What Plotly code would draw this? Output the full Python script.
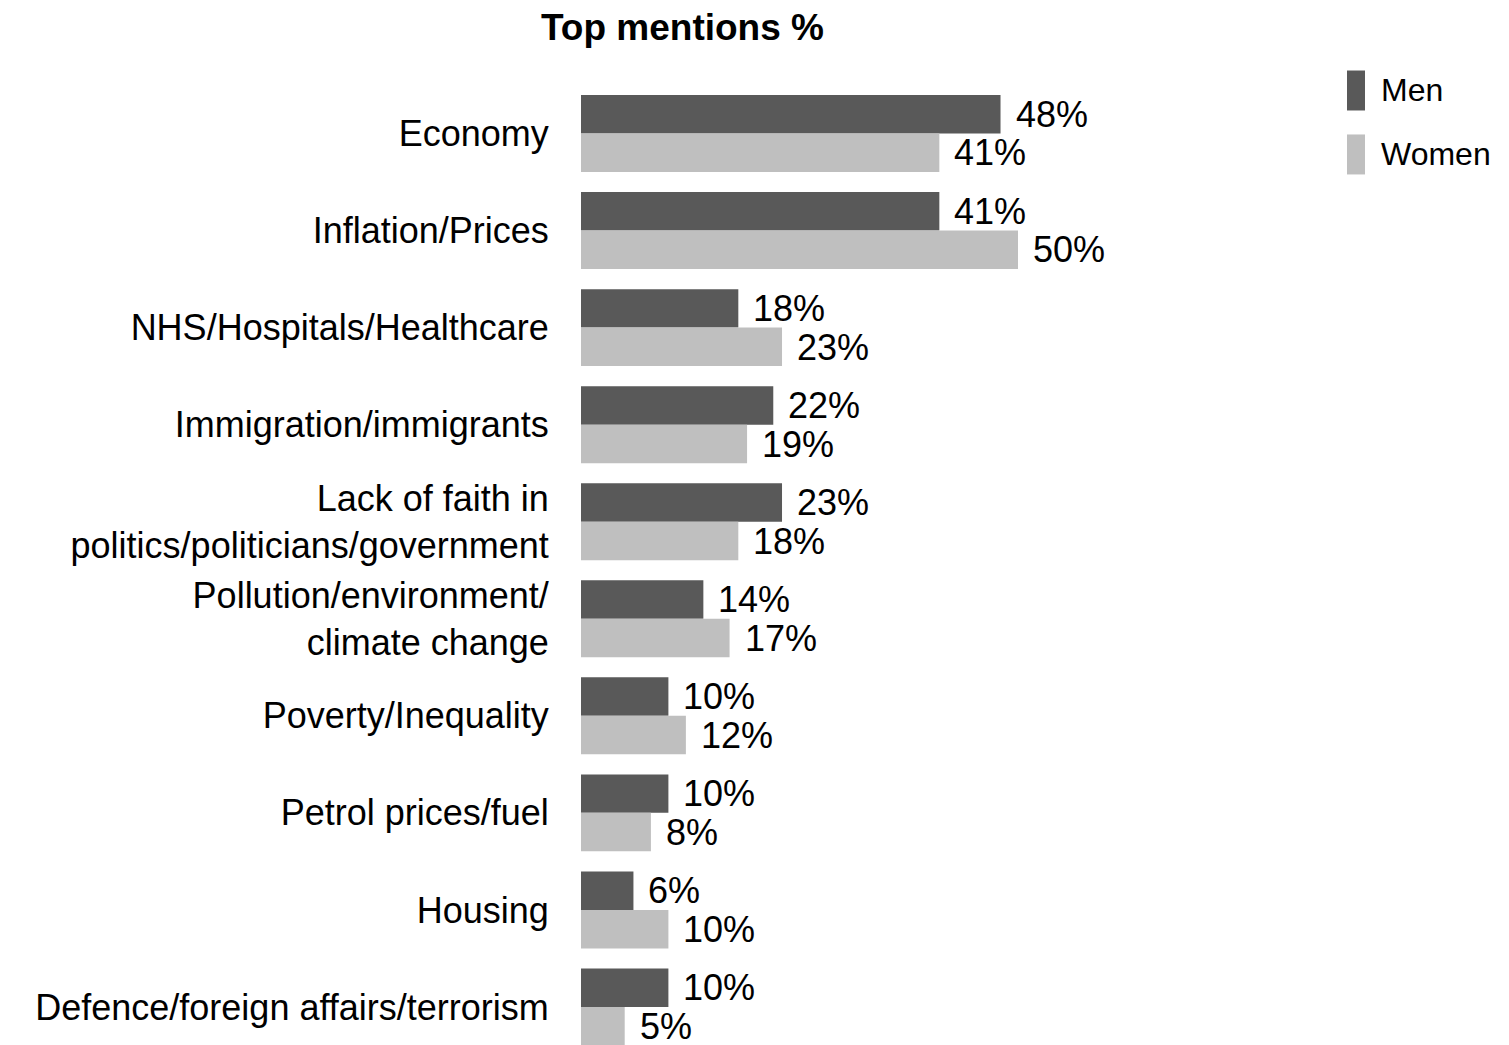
import plotly.graph_objects as go

categories = [
    "Economy",
    "Inflation/Prices",
    "NHS/Hospitals/Healthcare",
    "Immigration/immigrants",
    "Lack of faith in<br>politics/politicians/government",
    "Pollution/environment/<br>climate change",
    "Poverty/Inequality",
    "Petrol prices/fuel",
    "Housing",
    "Defence/foreign affairs/terrorism",
]
men = [48, 41, 18, 22, 23, 14, 10, 10, 6, 10]
women = [41, 50, 23, 19, 18, 17, 12, 8, 10, 5]
series_names = ["Men", "Women"]
colors = ["#595959", "#BFBFBF"]

OFF = 8  # page body margin
W, H = 1509 - OFF, 1045 - OFF
L, T, R, B = 581 - OFF, 84.5 - OFF, 0, 0
plot_w = W - L - R
plot_h = H - T - B
px_per_pct = 8.74
pitch = 97.1

FONT = "Arial, Liberation Sans, sans-serif"

fig = go.Figure()
for name, vals, col in zip(series_names, [men, women], colors):
    fig.add_trace(go.Bar(
        y=categories, x=vals, orientation="h", name=name,
        marker=dict(color=col, line=dict(width=0)),
        showlegend=False, hoverinfo="x+name",
    ))

annotations = []
for vals, shift in zip([men, women], [pitch * 0.2, -pitch * 0.2]):
    for c, v in zip(categories, vals):
        annotations.append(dict(
            x=v, y=c, xref="x", yref="y", text=f"{v}%", showarrow=False,
            xanchor="left", yanchor="middle", xshift=13, yshift=shift,
            font=dict(family=FONT, size=36, color="black"),
        ))

# custom legend (page pixel positions converted to paper coordinates)
shapes = []
leg_y = [90, 154]
for name, col, cy in zip(series_names, colors, leg_y):
    x0 = (1347 - OFF - L) / plot_w
    x1 = (1365 - OFF - L) / plot_w
    y0 = (H - (cy - OFF + 20)) / plot_h
    y1 = (H - (cy - OFF - 20)) / plot_h
    shapes.append(dict(type="rect", xref="paper", yref="paper", x0=x0, x1=x1,
                       y0=y0, y1=y1, fillcolor=col, line=dict(width=0)))
    annotations.append(dict(
        x=(1379 - OFF - L) / plot_w, y=(H - (cy - OFF)) / plot_h,
        xref="paper", yref="paper",
        text=name, showarrow=False, xanchor="left", yanchor="middle",
        font=dict(family=FONT, size=32, color="black"),
    ))

n_bottom = -0.5 + plot_h / pitch

fig.update_layout(
    width=W, height=H,
    margin=dict(l=L, r=R, t=T, b=B, pad=0),
    paper_bgcolor="white", plot_bgcolor="white",
    barmode="group", bargap=0.207, bargroupgap=0,
    title=dict(text="<b>Top mentions %</b>", x=(682.5 - OFF) / W, xref="container",
               xanchor="center", y=1 - (27 - OFF) / H, yref="container",
               yanchor="middle",
               font=dict(family=FONT, size=37, color="black")),
    font=dict(family=FONT, color="black"),
    xaxis=dict(visible=False, range=[0, plot_w / px_per_pct], fixedrange=True),
    yaxis=dict(type="category", range=[n_bottom, -0.5], showgrid=False,
               showline=False, zeroline=False, ticks="outside", ticklen=24,
               tickcolor="rgba(0,0,0,0)",
               tickfont=dict(family=FONT, size=36, color="black")),
    annotations=annotations,
    shapes=shapes,
)

fig.write_html("out.html")
